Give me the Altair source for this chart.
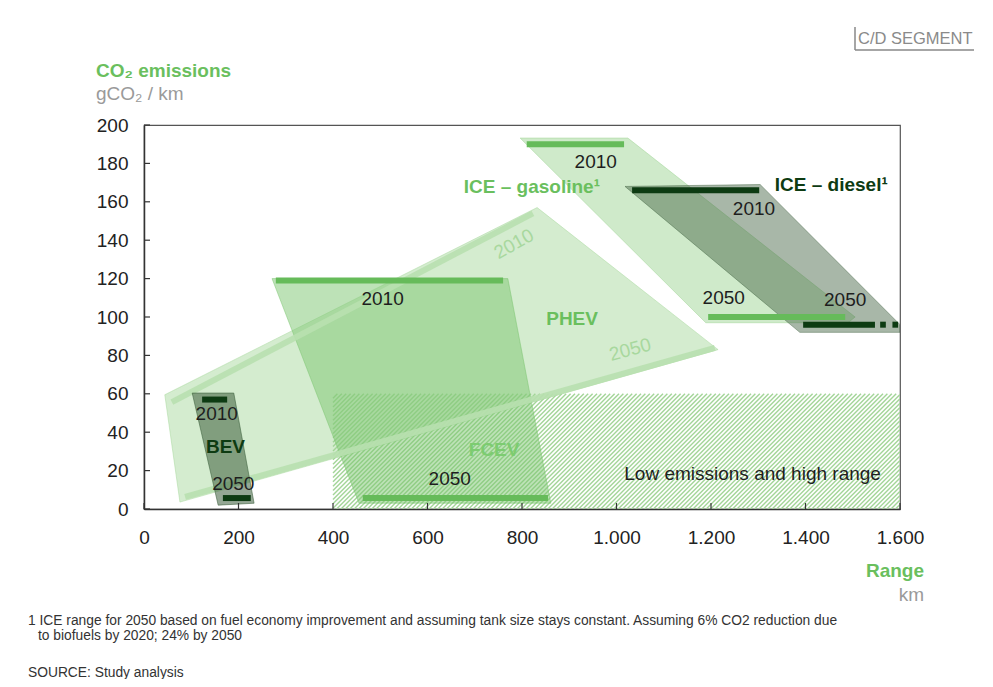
import altair as alt
import numpy as np
import pandas as pd

W, H = 756, 384
X_DOMAIN = [0, 1600]
Y_DOMAIN = [0, 200]
x_ticks = [0, 200, 400, 600, 800, 1000, 1200, 1400, 1600]
y_ticks = [0, 20, 40, 60, 80, 100, 120, 140, 160, 180, 200]

# ---- polygons (range km, gCO2/km) ----
phev_x = [44, 832, 1215, 76]
phev_y = [59.5, 157, 83, 3.6]
gas_x = [796, 1024, 1505, 1490, 1189]
gas_y = [193.2, 193.2, 100, 97, 97]
fcev_x = [271, 770, 861, 455]
fcev_y = [120, 120, 3, 3]
diesel_x = [1018, 1304, 1600, 1600, 1388]
diesel_y = [168, 169, 96, 92, 92]
bev_x = [102, 190, 233, 157]
bev_y = [60.4, 60.4, 3, 2]

# low emissions / high range zone
low_x = [400, 1600]
low_y = [0, 60]

# ---- range bars: start, end, level ----
green_bars_x1 = [810, 1194, 279, 463]
green_bars_x2 = [1016, 1484, 760, 855]
green_bars_y = [190, 100, 119, 5.7]
dark_bars_x1 = [1033, 1395, 1558, 1584, 123, 167]
dark_bars_x2 = [1302, 1547, 1570, 1596, 176, 226]
dark_bars_y = [166, 96, 96, 96, 57, 5.7]

# PHEV trend lines
phev_line_x1 = [59, 87]
phev_line_y1 = [55.7, 6.3]
phev_line_x2 = [823, 1208]
phev_line_y2 = [154, 83.9]

# ---- in-plot labels ----
black_txt = ["2010", "2010", "2050", "2050", "2010", "2010", "2050", "2050",
             "Low emissions and high range"]
black_x = [956, 1291, 1227, 1484, 505, 154, 189, 647, 1288]
black_y = [180.5, 156, 110, 109, 109.6, 49.5, 12.8, 15.4, 18.2]

FONT = "Liberation Sans"
GREEN = "#6abf5e"
DARK = "#0d3b12"

xs = alt.Scale(domain=X_DOMAIN, nice=False, zero=False)
ys = alt.Scale(domain=Y_DOMAIN, nice=False, zero=False)

xaxis = alt.Axis(values=x_ticks, ticks=False, tickSize=0, grid=False, title=None,
                 labelExpr="replace(format(datum.value, ','), ',', '.')",
                 labelFontSize=19, labelFont=FONT, labelColor="#222",
                 labelFlush=False, labelOverlap=False,
                 labelPadding=19, domainColor="#333", domainWidth=1.5)
yaxis = alt.Axis(values=y_ticks, ticks=False, tickSize=0, grid=False, title=None,
                 labelFontSize=19, labelFont=FONT, labelColor="#222",
                 labelFlush=False, labelOverlap=False,
                 labelPadding=16, domainColor="#333", domainWidth=1.5)


def X(f):
    return alt.X(f, scale=xs, axis=xaxis)


def Y(f):
    return alt.Y(f, scale=ys, axis=yaxis)


def polygon(px, py, color, opacity):
    df = pd.DataFrame({"x": px, "y": py, "i": list(range(len(px)))})
    return alt.Chart(df).mark_line(
        fill=color, fillOpacity=opacity, stroke=color, strokeOpacity=opacity,
        strokeWidth=1, interpolate="linear-closed", clip=True
    ).encode(x=X("x:Q"), y=Y("y:Q"), order=alt.Order("i:Q"))


# hatch lines (texture of the low-emission zone)
kx, ky = W / (X_DOMAIN[1] - X_DOMAIN[0]), H / (Y_DOMAIN[1] - Y_DOMAIN[0])
px0, px1 = low_x[0] * kx, low_x[1] * kx
ph = (low_y[1] - low_y[0]) * ky
segs = []
for c in np.arange(px0 - ph, px1, 4.4):
    s = max(0.0, px0 - c)
    e = min(ph, px1 - c)
    if e > s:
        segs.append({"x": (c + s) / kx, "y": s / ky + low_y[0],
                     "x2": (c + e) / kx, "y2": e / ky + low_y[0]})
hatch = alt.Chart(pd.DataFrame(segs)).mark_rule(
    color="#a3d598", strokeWidth=1.4, clip=True
).encode(x=X("x:Q"), x2="x2:Q", y=Y("y:Q"), y2="y2:Q")

xt = alt.Chart(pd.DataFrame({"v": x_ticks})).mark_rule(color="#333", strokeWidth=1.2).encode(
    x=X("v:Q"), y=alt.value(H), y2=alt.value(H - 6))
yt = alt.Chart(pd.DataFrame({"v": y_ticks})).mark_rule(color="#333", strokeWidth=1.2).encode(
    y=Y("v:Q"), x=alt.value(0), x2=alt.value(6))

phev = polygon(phev_x, phev_y, "#9fd494", 0.45)
gas = polygon(gas_x, gas_y, "#a0d595", 0.5)
fcev = polygon(fcev_x, fcev_y, "#7cc66f", 0.5)
diesel = polygon(diesel_x, diesel_y, "#3d5f3d", 0.45)
bev = polygon(bev_x, bev_y, "#3d5f3d", 0.55)

phev_lines = alt.Chart(pd.DataFrame({
    "x": phev_line_x1, "y": phev_line_y1, "x2": phev_line_x2, "y2": phev_line_y2
})).mark_rule(color="#b8e0af", opacity=0.9, strokeWidth=6, strokeCap="butt").encode(
    x=X("x:Q"), x2="x2:Q", y=Y("y:Q"), y2="y2:Q")

green_bars = alt.Chart(pd.DataFrame({
    "x": green_bars_x1, "x2": green_bars_x2, "y": green_bars_y
})).mark_rule(color="#66bb5a", strokeWidth=6).encode(x=X("x:Q"), x2="x2:Q", y=Y("y:Q"))
dark_bars = alt.Chart(pd.DataFrame({
    "x": dark_bars_x1, "x2": dark_bars_x2, "y": dark_bars_y
})).mark_rule(color=DARK, strokeWidth=6, clip=True).encode(x=X("x:Q"), x2="x2:Q", y=Y("y:Q"))


def label_layer(txt, lx, ly, **kw):
    df = pd.DataFrame({"t": txt, "x": lx, "y": ly})
    style = dict(font=FONT, fontSize=19, baseline="middle", align="center")
    style.update(kw)
    return alt.Chart(df).mark_text(**style).encode(x=X("x:Q"), y=Y("y:Q"), text="t:N")


labels = [
    label_layer(black_txt, black_x, black_y, color="#1e1e1e"),
    label_layer(["ICE – gasoline¹"], [965], [167.7], color=GREEN, fontWeight="bold", align="right"),
    label_layer(["PHEV"], [906], [99.2], color=GREEN, fontWeight="bold"),
    label_layer(["FCEV"], [741], [30.7], color="#7ccc70", fontWeight="bold"),
    label_layer(["ICE – diesel¹"], [1335], [168.8], color=DARK, fontWeight="bold", align="left"),
    label_layer(["BEV"], [172.5], [32.3], color=DARK, fontWeight="bold"),
    label_layer(["2010"], [783], [138], color="#a8d89e", angle=331),
    label_layer(["2050"], [1029], [83], color="#a8d89e", angle=345),
]

# ---- annotations outside the plot (pixel offsets from plot origin) ----
one = alt.Data(values=[{}])


def note(text, x, y, **kw):
    style = dict(font=FONT, fontSize=19, baseline="alphabetic", align="left")
    style.update(kw)
    return alt.Chart(one).mark_text(text=text, x=x, y=y, **style)


notes = [
    note("CO₂ emissions", -48, -48, color=GREEN, fontWeight="bold"),
    note("gCO₂ / km", -48, -25, color="#9a9a9a"),
    note("Range", 780, 452, color=GREEN, fontWeight="bold", align="right"),
    note("km", 780, 476, color="#9a9a9a", align="right"),
    note("C/D SEGMENT", 714, -81, color="#8a8a8a", fontSize=16.5),
    note("1 ICE range for 2050 based on fuel economy improvement and assuming tank size stays "
         "constant. Assuming 6% CO2 reduction due", -116, 500, color="#333", fontSize=13.8),
    note("to biofuels by 2020; 24% by 2050", -106, 515, color="#333", fontSize=13.8),
    note("SOURCE: Study analysis", -116, 552, color="#333", fontSize=13.8),
]
seg_box = [
    alt.Chart(one).mark_rule(color="#888", strokeWidth=1.5).encode(
        x=alt.value(711), y=alt.value(-98), y2=alt.value(-75)),
    alt.Chart(one).mark_rule(color="#888", strokeWidth=1.5).encode(
        x=alt.value(711), x2=alt.value(830), y=alt.value(-75)),
]

chart = alt.layer(
    hatch, phev, gas, fcev, phev_lines, diesel, bev, green_bars, dark_bars,
    xt, yt, *labels, *notes, *seg_box
).properties(
    width=W, height=H,
    autosize=alt.AutoSizeParams(type="none"),
    padding={"left": 136, "top": 117, "right": 80, "bottom": 170},
).configure_view(
    stroke="#555", strokeWidth=1.2
)

chart.save("out.html", embed_options={"renderer": "svg", "actions": False})
